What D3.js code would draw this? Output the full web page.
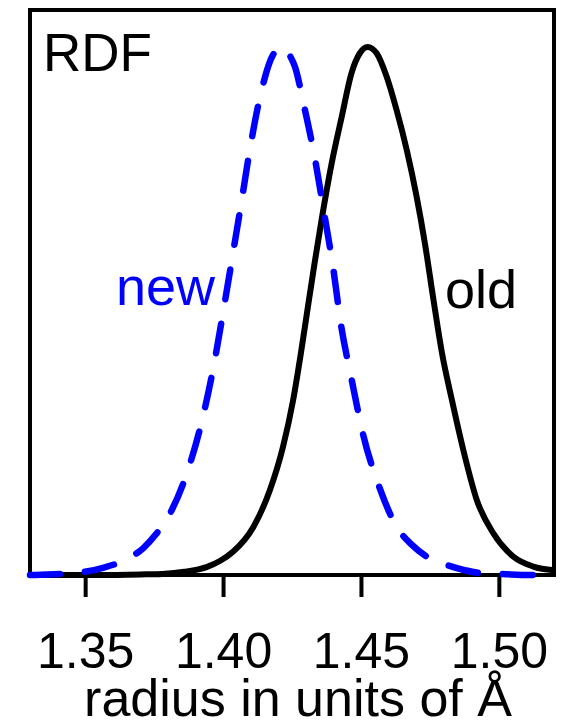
<!DOCTYPE html>
<html>
<head>
<meta charset="utf-8">
<script src="https://cdn.jsdelivr.net/npm/d3@7"></script>
<style>
  html, body { margin: 0; padding: 0; background: #fff; }
  svg { display: block; }
  text { font-family: "Liberation Sans", Arial, Helvetica, sans-serif; }
</style>
</head>
<body>
<svg id="chart" width="562" height="721"></svg>
<script>
// Radial distribution function, old vs new bond-length distribution
const oldR = [1.330, 1.355, 1.370, 1.378, 1.386, 1.394, 1.399, 1.4036, 1.411, 1.417, 1.4217, 1.4254,
  1.4284, 1.4308, 1.4332, 1.4359, 1.4394, 1.4430, 1.4466, 1.4497, 1.4524, 1.4557, 1.4593, 1.4629,
  1.4666, 1.4702, 1.4732, 1.4763, 1.4794, 1.4830, 1.4871, 1.4920, 1.4980, 1.5052, 1.5125, 1.520];
const oldG = [0, 0, 0.001, 0.002, 0.006, 0.015, 0.027, 0.044, 0.091, 0.161, 0.242, 0.331,
  0.426, 0.509, 0.591, 0.678, 0.780, 0.867, 0.951, 0.989, 1.000, 0.988, 0.944, 0.881,
  0.805, 0.716, 0.628, 0.521, 0.420, 0.331, 0.237, 0.142, 0.079, 0.035, 0.016, 0.009];

const newR = [1.3300, 1.3365, 1.3438, 1.3499, 1.3568, 1.3638, 1.3711, 1.3758, 1.3805, 1.3865,
  1.3922, 1.3965, 1.4000, 1.4033, 1.4066, 1.4098, 1.4137, 1.4181, 1.4214, 1.4243, 1.4261,
  1.4293, 1.4334, 1.4367, 1.4400, 1.4427, 1.4466, 1.4507, 1.4569, 1.4630, 1.4685, 1.4741,
  1.4811, 1.4877, 1.4944, 1.5004, 1.5113, 1.5200];
const newG = [0, 0.001, 0.003, 0.006, 0.014, 0.027, 0.051, 0.078, 0.114, 0.187,
  0.289, 0.393, 0.497, 0.600, 0.704, 0.808, 0.912, 0.985, 1.000, 0.983, 0.962,
  0.890, 0.786, 0.684, 0.579, 0.476, 0.371, 0.268, 0.163, 0.091, 0.057, 0.034,
  0.019, 0.009, 0.003, 0.002, 0, 0];

const xTicks = [1.35, 1.40, 1.45, 1.50];
const xDomain = [1.33, 1.52];
const yDomain = [0, 1.07];
const axisTitle = "radius in units of Å";
const panelLabel = "RDF";
const seriesLabels = ["new", "old"];

const svg = d3.select("#chart");
const plotLeft = 30, plotRight = 554, plotTop = 10, plotBottom = 575;

const x = d3.scaleLinear().domain(xDomain).range([plotLeft, plotRight]);
const y = d3.scaleLinear().domain(yDomain).range([plotBottom, plotTop]);

// x axis: outward ticks, labels below
const axis = d3.axisBottom(x)
  .tickValues(xTicks)
  .tickFormat(d3.format(".2f"))
  .tickSize(22)
  .tickSizeOuter(0);

const gAxis = svg.append("g")
  .attr("transform", `translate(0,${plotBottom})`)
  .call(axis);
gAxis.select(".domain").remove();
gAxis.selectAll(".tick line")
  .attr("stroke", "#000")
  .attr("stroke-width", 4);
gAxis.selectAll(".tick text")
  .attr("y", 93)
  .attr("dy", 0)
  .attr("fill", "#000")
  .style("font-size", "50px")
  .style("font-family", "'Liberation Sans', Arial, sans-serif");

const line = d3.line()
  .x(d => x(d[0]))
  .y(d => y(d[1]))
  .curve(d3.curveMonotoneX);

const oldData = oldR.map((r, i) => [r, oldG[i]]);
const newData = newR.map((r, i) => [r, newG[i]]);

// old distribution (solid black)
svg.append("path")
  .datum(oldData)
  .attr("d", line)
  .attr("fill", "none")
  .attr("stroke", "#000")
  .attr("stroke-width", 6)
  .attr("stroke-linejoin", "round");

// plot frame
svg.append("rect")
  .attr("x", plotLeft).attr("y", plotTop)
  .attr("width", plotRight - plotLeft).attr("height", plotBottom - plotTop)
  .attr("fill", "none")
  .attr("stroke", "#000")
  .attr("stroke-width", 4);

// new distribution (dashed blue)
svg.append("path")
  .datum(newData)
  .attr("d", line)
  .attr("fill", "none")
  .attr("stroke", "#0000ff")
  .attr("stroke-width", 6.5)
  .attr("stroke-linecap", "round")
  .attr("stroke-linejoin", "round")
  .attr("stroke-dasharray", "30,25");

// labels
svg.append("text")
  .attr("x", 43).attr("y", 71)
  .attr("fill", "#000")
  .style("font-size", "53px")
  .text(panelLabel);

svg.append("text")
  .attr("x", 116).attr("y", 305)
  .attr("fill", "#0000ff")
  .style("font-size", "54px")
  .text(seriesLabels[0]);

svg.append("text")
  .attr("x", 445).attr("y", 308)
  .attr("fill", "#000")
  .style("font-size", "54px")
  .text(seriesLabels[1]);

svg.append("text")
  .attr("x", 298).attr("y", 716)
  .attr("text-anchor", "middle")
  .attr("fill", "#000")
  .style("font-size", "52px")
  .text(axisTitle);
</script>
</body>
</html>
